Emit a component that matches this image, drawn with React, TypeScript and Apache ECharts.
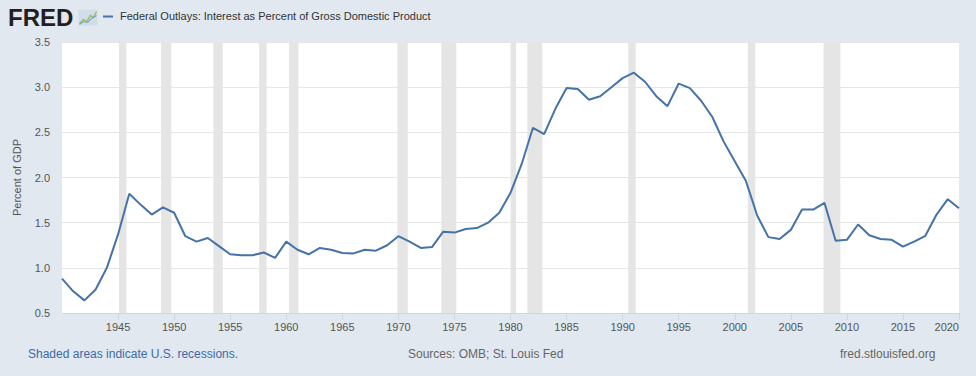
import React, { useEffect, useRef } from "react";
import * as echarts from "echarts";

const years = [
  1940, 1941, 1942, 1943, 1944, 1945, 1946, 1947, 1948, 1949,
  1950, 1951, 1952, 1953, 1954, 1955, 1956, 1957, 1958, 1959,
  1960, 1961, 1962, 1963, 1964, 1965, 1966, 1967, 1968, 1969,
  1970, 1971, 1972, 1973, 1974, 1975, 1976, 1977, 1978, 1979,
  1980, 1981, 1982, 1983, 1984, 1985, 1986, 1987, 1988, 1989,
  1990, 1991, 1992, 1993, 1994, 1995, 1996, 1997, 1998, 1999,
  2000, 2001, 2002, 2003, 2004, 2005, 2006, 2007, 2008, 2009,
  2010, 2011, 2012, 2013, 2014, 2015, 2016, 2017, 2018, 2019,
  2020,
];

const interestPctGdp = [
  0.88, 0.74, 0.64, 0.76, 1.0, 1.37, 1.82, 1.7, 1.59, 1.67,
  1.61, 1.35, 1.29, 1.33, 1.24, 1.15, 1.14, 1.14, 1.17, 1.11,
  1.29, 1.2, 1.15, 1.22, 1.2, 1.165, 1.16, 1.2, 1.19, 1.25,
  1.35, 1.29, 1.22, 1.23, 1.4, 1.39, 1.43, 1.44, 1.5, 1.61,
  1.83, 2.15, 2.55, 2.48, 2.76, 2.99, 2.98, 2.86, 2.9, 3.0,
  3.1, 3.16, 3.06, 2.9, 2.79, 3.04, 2.99, 2.85, 2.67, 2.4,
  2.18, 1.96, 1.58, 1.34, 1.32, 1.42, 1.645, 1.645, 1.72, 1.3,
  1.31, 1.48, 1.36, 1.32, 1.31, 1.235, 1.29, 1.355, 1.59, 1.76,
  1.66,
];

// NBER recessions as fractional years (start, end)
const recessionStarts = [
  1945.083, 1948.833, 1953.5, 1957.583, 1960.25, 1969.917, 1973.833,
  1980.0, 1981.5, 1990.5, 2001.167, 2007.917,
];
const recessionEnds = [
  1945.75, 1949.75, 1954.333, 1958.25, 1961.083, 1970.833, 1975.167,
  1980.5, 1982.833, 1991.167, 2001.833, 2009.417,
];

const xMin = 1940;
const xMax = 2020;
const xInterval = 5;
const yMin = 0.5;
const yMax = 3.5;
const yInterval = 0.5;

const seriesName = "Federal Outlays: Interest as Percent of Gross Domestic Product";
const yAxisName = "Percent of GDP";
const footerLeft = "Shaded areas indicate U.S. recessions.";
const footerMid = "Sources: OMB; St. Louis Fed";
const footerRight = "fred.stlouisfed.org";

const FONT = "'Liberation Sans', Arial, sans-serif";

export default function App() {
  const ref = useRef<HTMLDivElement>(null);

  useEffect(() => {
    if (!ref.current) return;
    const chart = echarts.init(ref.current, null, { renderer: "svg" });

    const data = years.map((y, i) => [y, interestPctGdp[i]]);
    const areas = recessionStarts.map((s, i) => [
      { xAxis: s },
      { xAxis: recessionEnds[i] },
    ]);

    chart.setOption({
      animation: false,
      backgroundColor: "#e1e8f0",
      textStyle: { fontFamily: FONT },
      grid: { left: 62, right: 17, top: 42, bottom: 63, show: true, backgroundColor: "#ffffff", borderWidth: 0 },
      xAxis: {
        type: "value",
        min: xMin,
        max: xMax,
        interval: xInterval,
        axisLine: { show: true, lineStyle: { color: "#ccd6eb", width: 1 } },
        axisTick: { show: true, length: 7, lineStyle: { color: "#ccd6eb" } },
        axisLabel: {
          color: "#555555",
          fontSize: 11,
          fontFamily: FONT,
          margin: 8,
          showMinLabel: false,
          alignMaxLabel: "right",
          formatter: (v: number) => (v === xMin ? "" : String(v)),
        },
        splitLine: { show: false },
      },
      yAxis: {
        type: "value",
        min: yMin,
        max: yMax,
        interval: yInterval,
        name: yAxisName,
        nameLocation: "middle",
        nameRotate: 90,
        nameGap: 40,
        nameTextStyle: { color: "#555555", fontSize: 11, fontFamily: FONT },
        axisLine: { show: false },
        axisTick: { show: false },
        axisLabel: {
          color: "#555555",
          fontSize: 11,
          fontFamily: FONT,
          margin: 12,
          formatter: (v: number) => v.toFixed(1),
        },
        splitLine: { show: true, lineStyle: { color: "#e6e6e6", width: 1 } },
      },
      series: [
        {
          type: "line",
          name: seriesName,
          data,
          symbol: "none",
          lineStyle: { color: "#4572a7", width: 2 },
          itemStyle: { color: "#4572a7" },
          z: 3,
          markArea: {
            silent: true,
            itemStyle: { color: "#e5e5e5" },
            data: areas,
          },
        },
      ],
      graphic: [
        {
          type: "text",
          left: 8,
          top: 5,
          style: {
            text: "FRED",
            fill: "#231f20",
            font: `bold 24px ${FONT}`,
          },
        },
        {
          type: "group",
          left: 77,
          top: 9,
          children: [
            { type: "rect", shape: { x: 0, y: 0, width: 19, height: 16 }, style: { fill: "#d3dde8" } },
            {
              type: "polyline",
              shape: { points: [[1, 14], [5, 10], [8, 12], [12, 6], [15, 8], [18, 2]] },
              style: { stroke: "#8fbf5a", lineWidth: 1.3, fill: "none" },
            },
            {
              type: "polyline",
              shape: { points: [[1, 15], [5, 12], [9, 13], [13, 9], [18, 6]] },
              style: { stroke: "#7aa0cf", lineWidth: 1.1, fill: "none" },
            },
          ],
        },
        {
          type: "line",
          shape: { x1: 103, y1: 16.5, x2: 113, y2: 16.5 },
          style: { stroke: "#4572a7", lineWidth: 2 },
        },
        {
          type: "text",
          left: 120,
          top: 10,
          style: {
            text: seriesName,
            fill: "#333333",
            font: `11px ${FONT}`,
          },
        },
        {
          type: "text",
          left: 28,
          top: 348,
          style: { text: footerLeft, fill: "#3d6aab", font: `12px ${FONT}` },
        },
        {
          type: "text",
          left: 408,
          top: 348,
          style: { text: footerMid, fill: "#666666", font: `12px ${FONT}` },
        },
        {
          type: "text",
          left: 840,
          top: 348,
          style: { text: footerRight, fill: "#666666", font: `12px ${FONT}` },
        },
      ],
    });

    return () => chart.dispose();
  }, []);

  return (
    <div
      ref={ref}
      style={{ position: "absolute", left: 0, top: 0, width: 976, height: 376 }}
    />
  );
}
